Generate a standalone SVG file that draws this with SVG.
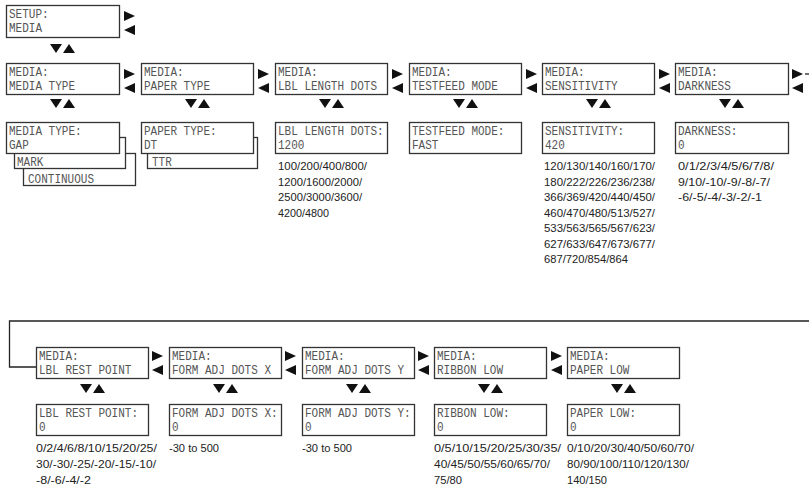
<svg xmlns="http://www.w3.org/2000/svg" width="809" height="489" viewBox="0 0 809 489">
<style>
.box{fill:#fff;stroke:#333;stroke-width:1.3}
.bt{font-family:"Liberation Mono",monospace;font-size:12px;fill:#555}
.lt{font-family:"Liberation Sans",sans-serif;font-size:11.5px;fill:#222}
.tri{fill:#111}
.ln{fill:none;stroke:#222;stroke-width:1.3}
</style>
<defs>
<path id="rt" class="tri" d="M0,0 L11,5 L0,10 Z"/>
<path id="lf" class="tri" d="M11,0 L0,5 L11,10 Z"/>
<g id="du"><path class="tri" d="M0,0 L12,0 L6,9 Z"/><path class="tri" d="M13,9 L25,9 L19,0 Z"/></g>
</defs>
<rect width="809" height="489" fill="#fff"/>

<g id="connectors">
<path class="ln" d="M809,321 H9.5 V367 H36"/>
<path class="ln" d="M805,74 H809"/>
<use href="#rt" x="124" y="11"/><use href="#lf" x="124" y="25"/>
<use href="#du" x="50" y="44"/>
<use href="#rt" x="124" y="69"/><use href="#lf" x="124" y="83"/>
<use href="#rt" x="258" y="69"/><use href="#lf" x="258" y="83"/>
<use href="#rt" x="392" y="69"/><use href="#lf" x="392" y="83"/>
<use href="#rt" x="526" y="69"/><use href="#lf" x="526" y="83"/>
<use href="#rt" x="659" y="69"/><use href="#lf" x="659" y="83"/>
<use href="#rt" x="792" y="69"/><use href="#lf" x="792" y="83"/>
<use href="#du" x="50" y="99"/>
<use href="#du" x="185" y="99"/>
<use href="#du" x="319" y="99"/>
<use href="#du" x="453" y="99"/>
<use href="#du" x="586" y="99"/>
<use href="#du" x="719" y="99"/>
<use href="#rt" x="152" y="351"/><use href="#lf" x="152" y="365"/>
<use href="#rt" x="285" y="351"/><use href="#lf" x="285" y="365"/>
<use href="#rt" x="418" y="351"/><use href="#lf" x="418" y="365"/>
<use href="#rt" x="551" y="351"/><use href="#lf" x="551" y="365"/>
<use href="#du" x="80" y="384"/>
<use href="#du" x="213" y="384"/>
<use href="#du" x="346" y="384"/>
<use href="#du" x="478" y="384"/>
<use href="#du" x="611" y="384"/>
</g>

<g id="setup-media">
<rect class="box" x="6.5" y="5.5" width="113" height="32"/>
<text class="bt" x="9" y="18" textLength="39.6" lengthAdjust="spacingAndGlyphs">SETUP:</text>
<text class="bt" x="9" y="32" textLength="33" lengthAdjust="spacingAndGlyphs">MEDIA</text>
</g>

<g id="media-type">
<rect class="box" x="6.5" y="63.5" width="113" height="31"/>
<text class="bt" x="9" y="76" textLength="39.6" lengthAdjust="spacingAndGlyphs">MEDIA:</text>
<text class="bt" x="9" y="90" textLength="66" lengthAdjust="spacingAndGlyphs">MEDIA TYPE</text>
</g>
<g id="paper-type">
<rect class="box" x="141.5" y="63.5" width="112" height="31"/>
<text class="bt" x="144" y="76" textLength="39.6" lengthAdjust="spacingAndGlyphs">MEDIA:</text>
<text class="bt" x="144" y="90" textLength="66" lengthAdjust="spacingAndGlyphs">PAPER TYPE</text>
</g>
<g id="lbl-length-dots">
<rect class="box" x="275.5" y="63.5" width="112" height="31"/>
<text class="bt" x="278" y="76" textLength="39.6" lengthAdjust="spacingAndGlyphs">MEDIA:</text>
<text class="bt" x="278" y="90" textLength="99" lengthAdjust="spacingAndGlyphs">LBL LENGTH DOTS</text>
</g>
<g id="testfeed-mode">
<rect class="box" x="409.5" y="63.5" width="112" height="31"/>
<text class="bt" x="412" y="76" textLength="39.6" lengthAdjust="spacingAndGlyphs">MEDIA:</text>
<text class="bt" x="412" y="90" textLength="85.8" lengthAdjust="spacingAndGlyphs">TESTFEED MODE</text>
</g>
<g id="sensitivity">
<rect class="box" x="542.5" y="63.5" width="112" height="31"/>
<text class="bt" x="545" y="76" textLength="39.6" lengthAdjust="spacingAndGlyphs">MEDIA:</text>
<text class="bt" x="545" y="90" textLength="72.6" lengthAdjust="spacingAndGlyphs">SENSITIVITY</text>
</g>
<g id="darkness">
<rect class="box" x="675.5" y="63.5" width="113" height="31"/>
<text class="bt" x="678" y="76" textLength="39.6" lengthAdjust="spacingAndGlyphs">MEDIA:</text>
<text class="bt" x="678" y="90" textLength="52.8" lengthAdjust="spacingAndGlyphs">DARKNESS</text>
</g>

<g id="media-type-value">
<rect class="box" x="23.5" y="153.5" width="112" height="32"/>
<text class="bt" x="28" y="183" textLength="66" lengthAdjust="spacingAndGlyphs">CONTINUOUS</text>
<rect class="box" x="14.5" y="137.5" width="111" height="31"/>
<text class="bt" x="17" y="166" textLength="26.4" lengthAdjust="spacingAndGlyphs">MARK</text>
<rect class="box" x="6.5" y="122.5" width="113" height="31"/>
<text class="bt" x="9" y="135" textLength="72.6" lengthAdjust="spacingAndGlyphs">MEDIA TYPE:</text>
<text class="bt" x="9" y="149" textLength="19.8" lengthAdjust="spacingAndGlyphs">GAP</text>
</g>
<g id="paper-type-value">
<rect class="box" x="147.5" y="137.5" width="110" height="31"/>
<text class="bt" x="152" y="166" textLength="19.8" lengthAdjust="spacingAndGlyphs">TTR</text>
<rect class="box" x="141.5" y="122.5" width="112" height="31"/>
<text class="bt" x="144" y="135" textLength="72.6" lengthAdjust="spacingAndGlyphs">PAPER TYPE:</text>
<text class="bt" x="144" y="149" textLength="13.2" lengthAdjust="spacingAndGlyphs">DT</text>
</g>
<g id="lbl-length-dots-value">
<rect class="box" x="275.5" y="122.5" width="112" height="31"/>
<text class="bt" x="278" y="135" textLength="105.6" lengthAdjust="spacingAndGlyphs">LBL LENGTH DOTS:</text>
<text class="bt" x="278" y="149" textLength="26.4" lengthAdjust="spacingAndGlyphs">1200</text>
<text class="lt" x="278" y="170" textLength="89" lengthAdjust="spacingAndGlyphs">100/200/400/800/</text>
<text class="lt" x="278" y="185.5" textLength="84" lengthAdjust="spacingAndGlyphs">1200/1600/2000/</text>
<text class="lt" x="278" y="201" textLength="84" lengthAdjust="spacingAndGlyphs">2500/3000/3600/</text>
<text class="lt" x="278" y="216.5" textLength="51" lengthAdjust="spacingAndGlyphs">4200/4800</text>
</g>
<g id="testfeed-mode-value">
<rect class="box" x="409.5" y="122.5" width="112" height="31"/>
<text class="bt" x="412" y="135" textLength="92.4" lengthAdjust="spacingAndGlyphs">TESTFEED MODE:</text>
<text class="bt" x="412" y="149" textLength="26.4" lengthAdjust="spacingAndGlyphs">FAST</text>
</g>
<g id="sensitivity-value">
<rect class="box" x="542.5" y="122.5" width="112" height="31"/>
<text class="bt" x="545" y="135" textLength="79.2" lengthAdjust="spacingAndGlyphs">SENSITIVITY:</text>
<text class="bt" x="545" y="149" textLength="19.8" lengthAdjust="spacingAndGlyphs">420</text>
<text class="lt" x="544" y="170" textLength="111" lengthAdjust="spacingAndGlyphs">120/130/140/160/170/</text>
<text class="lt" x="544" y="185.5" textLength="111" lengthAdjust="spacingAndGlyphs">180/222/226/236/238/</text>
<text class="lt" x="544" y="201" textLength="111" lengthAdjust="spacingAndGlyphs">366/369/420/440/450/</text>
<text class="lt" x="544" y="216.5" textLength="111" lengthAdjust="spacingAndGlyphs">460/470/480/513/527/</text>
<text class="lt" x="544" y="232" textLength="111" lengthAdjust="spacingAndGlyphs">533/563/565/567/623/</text>
<text class="lt" x="544" y="247.5" textLength="111" lengthAdjust="spacingAndGlyphs">627/633/647/673/677/</text>
<text class="lt" x="544" y="263" textLength="84" lengthAdjust="spacingAndGlyphs">687/720/854/864</text>
</g>
<g id="darkness-value">
<rect class="box" x="675.5" y="122.5" width="113" height="31"/>
<text class="bt" x="678" y="135" textLength="59.4" lengthAdjust="spacingAndGlyphs">DARKNESS:</text>
<text class="bt" x="678" y="149" textLength="6.6" lengthAdjust="spacingAndGlyphs">0</text>
<text class="lt" x="678" y="170" textLength="96" lengthAdjust="spacingAndGlyphs">0/1/2/3/4/5/6/7/8/</text>
<text class="lt" x="678" y="185.5" textLength="92" lengthAdjust="spacingAndGlyphs">9/10/-10/-9/-8/-7/</text>
<text class="lt" x="678" y="201" textLength="84" lengthAdjust="spacingAndGlyphs">-6/-5/-4/-3/-2/-1</text>
</g>

<g id="lbl-rest-point">
<rect class="box" x="36.5" y="347.5" width="112" height="31"/>
<text class="bt" x="39" y="360" textLength="39.6" lengthAdjust="spacingAndGlyphs">MEDIA:</text>
<text class="bt" x="39" y="374" textLength="92.4" lengthAdjust="spacingAndGlyphs">LBL REST POINT</text>
</g>
<g id="form-adj-dots-x">
<rect class="box" x="169.5" y="347.5" width="112" height="31"/>
<text class="bt" x="172" y="360" textLength="39.6" lengthAdjust="spacingAndGlyphs">MEDIA:</text>
<text class="bt" x="172" y="374" textLength="99" lengthAdjust="spacingAndGlyphs">FORM ADJ DOTS X</text>
</g>
<g id="form-adj-dots-y">
<rect class="box" x="302.5" y="347.5" width="112" height="31"/>
<text class="bt" x="305" y="360" textLength="39.6" lengthAdjust="spacingAndGlyphs">MEDIA:</text>
<text class="bt" x="305" y="374" textLength="99" lengthAdjust="spacingAndGlyphs">FORM ADJ DOTS Y</text>
</g>
<g id="ribbon-low">
<rect class="box" x="434.5" y="347.5" width="112" height="31"/>
<text class="bt" x="437" y="360" textLength="39.6" lengthAdjust="spacingAndGlyphs">MEDIA:</text>
<text class="bt" x="437" y="374" textLength="66" lengthAdjust="spacingAndGlyphs">RIBBON LOW</text>
</g>
<g id="paper-low">
<rect class="box" x="567.5" y="347.5" width="112" height="31"/>
<text class="bt" x="570" y="360" textLength="39.6" lengthAdjust="spacingAndGlyphs">MEDIA:</text>
<text class="bt" x="570" y="374" textLength="59.4" lengthAdjust="spacingAndGlyphs">PAPER LOW</text>
</g>

<g id="lbl-rest-point-value">
<rect class="box" x="36.5" y="404.5" width="112" height="31"/>
<text class="bt" x="39" y="417" textLength="99" lengthAdjust="spacingAndGlyphs">LBL REST POINT:</text>
<text class="bt" x="39" y="431" textLength="6.6" lengthAdjust="spacingAndGlyphs">0</text>
<text class="lt" x="36" y="452" textLength="121" lengthAdjust="spacingAndGlyphs">0/2/4/6/8/10/15/20/25/</text>
<text class="lt" x="36" y="468" textLength="120" lengthAdjust="spacingAndGlyphs">30/-30/-25/-20/-15/-10/</text>
<text class="lt" x="36" y="484" textLength="55" lengthAdjust="spacingAndGlyphs">-8/-6/-4/-2</text>
</g>
<g id="form-adj-dots-x-value">
<rect class="box" x="169.5" y="404.5" width="112" height="31"/>
<text class="bt" x="172" y="417" textLength="105.6" lengthAdjust="spacingAndGlyphs">FORM ADJ DOTS X:</text>
<text class="bt" x="172" y="431" textLength="6.6" lengthAdjust="spacingAndGlyphs">0</text>
<text class="lt" x="169" y="452" textLength="50" lengthAdjust="spacingAndGlyphs">-30 to 500</text>
</g>
<g id="form-adj-dots-y-value">
<rect class="box" x="302.5" y="404.5" width="112" height="31"/>
<text class="bt" x="305" y="417" textLength="105.6" lengthAdjust="spacingAndGlyphs">FORM ADJ DOTS Y:</text>
<text class="bt" x="305" y="431" textLength="6.6" lengthAdjust="spacingAndGlyphs">0</text>
<text class="lt" x="302" y="452" textLength="50" lengthAdjust="spacingAndGlyphs">-30 to 500</text>
</g>
<g id="ribbon-low-value">
<rect class="box" x="434.5" y="404.5" width="112" height="31"/>
<text class="bt" x="437" y="417" textLength="72.6" lengthAdjust="spacingAndGlyphs">RIBBON LOW:</text>
<text class="bt" x="437" y="431" textLength="6.6" lengthAdjust="spacingAndGlyphs">0</text>
<text class="lt" x="434" y="452" textLength="127" lengthAdjust="spacingAndGlyphs">0/5/10/15/20/25/30/35/</text>
<text class="lt" x="434" y="468" textLength="116" lengthAdjust="spacingAndGlyphs">40/45/50/55/60/65/70/</text>
<text class="lt" x="434" y="484" textLength="28" lengthAdjust="spacingAndGlyphs">75/80</text>
</g>
<g id="paper-low-value">
<rect class="box" x="567.5" y="404.5" width="112" height="31"/>
<text class="bt" x="570" y="417" textLength="66" lengthAdjust="spacingAndGlyphs">PAPER LOW:</text>
<text class="bt" x="570" y="431" textLength="6.6" lengthAdjust="spacingAndGlyphs">0</text>
<text class="lt" x="567" y="452" textLength="127" lengthAdjust="spacingAndGlyphs">0/10/20/30/40/50/60/70/</text>
<text class="lt" x="567" y="468" textLength="122" lengthAdjust="spacingAndGlyphs">80/90/100/110/120/130/</text>
<text class="lt" x="567" y="484" textLength="40" lengthAdjust="spacingAndGlyphs">140/150</text>
</g>
</svg>
